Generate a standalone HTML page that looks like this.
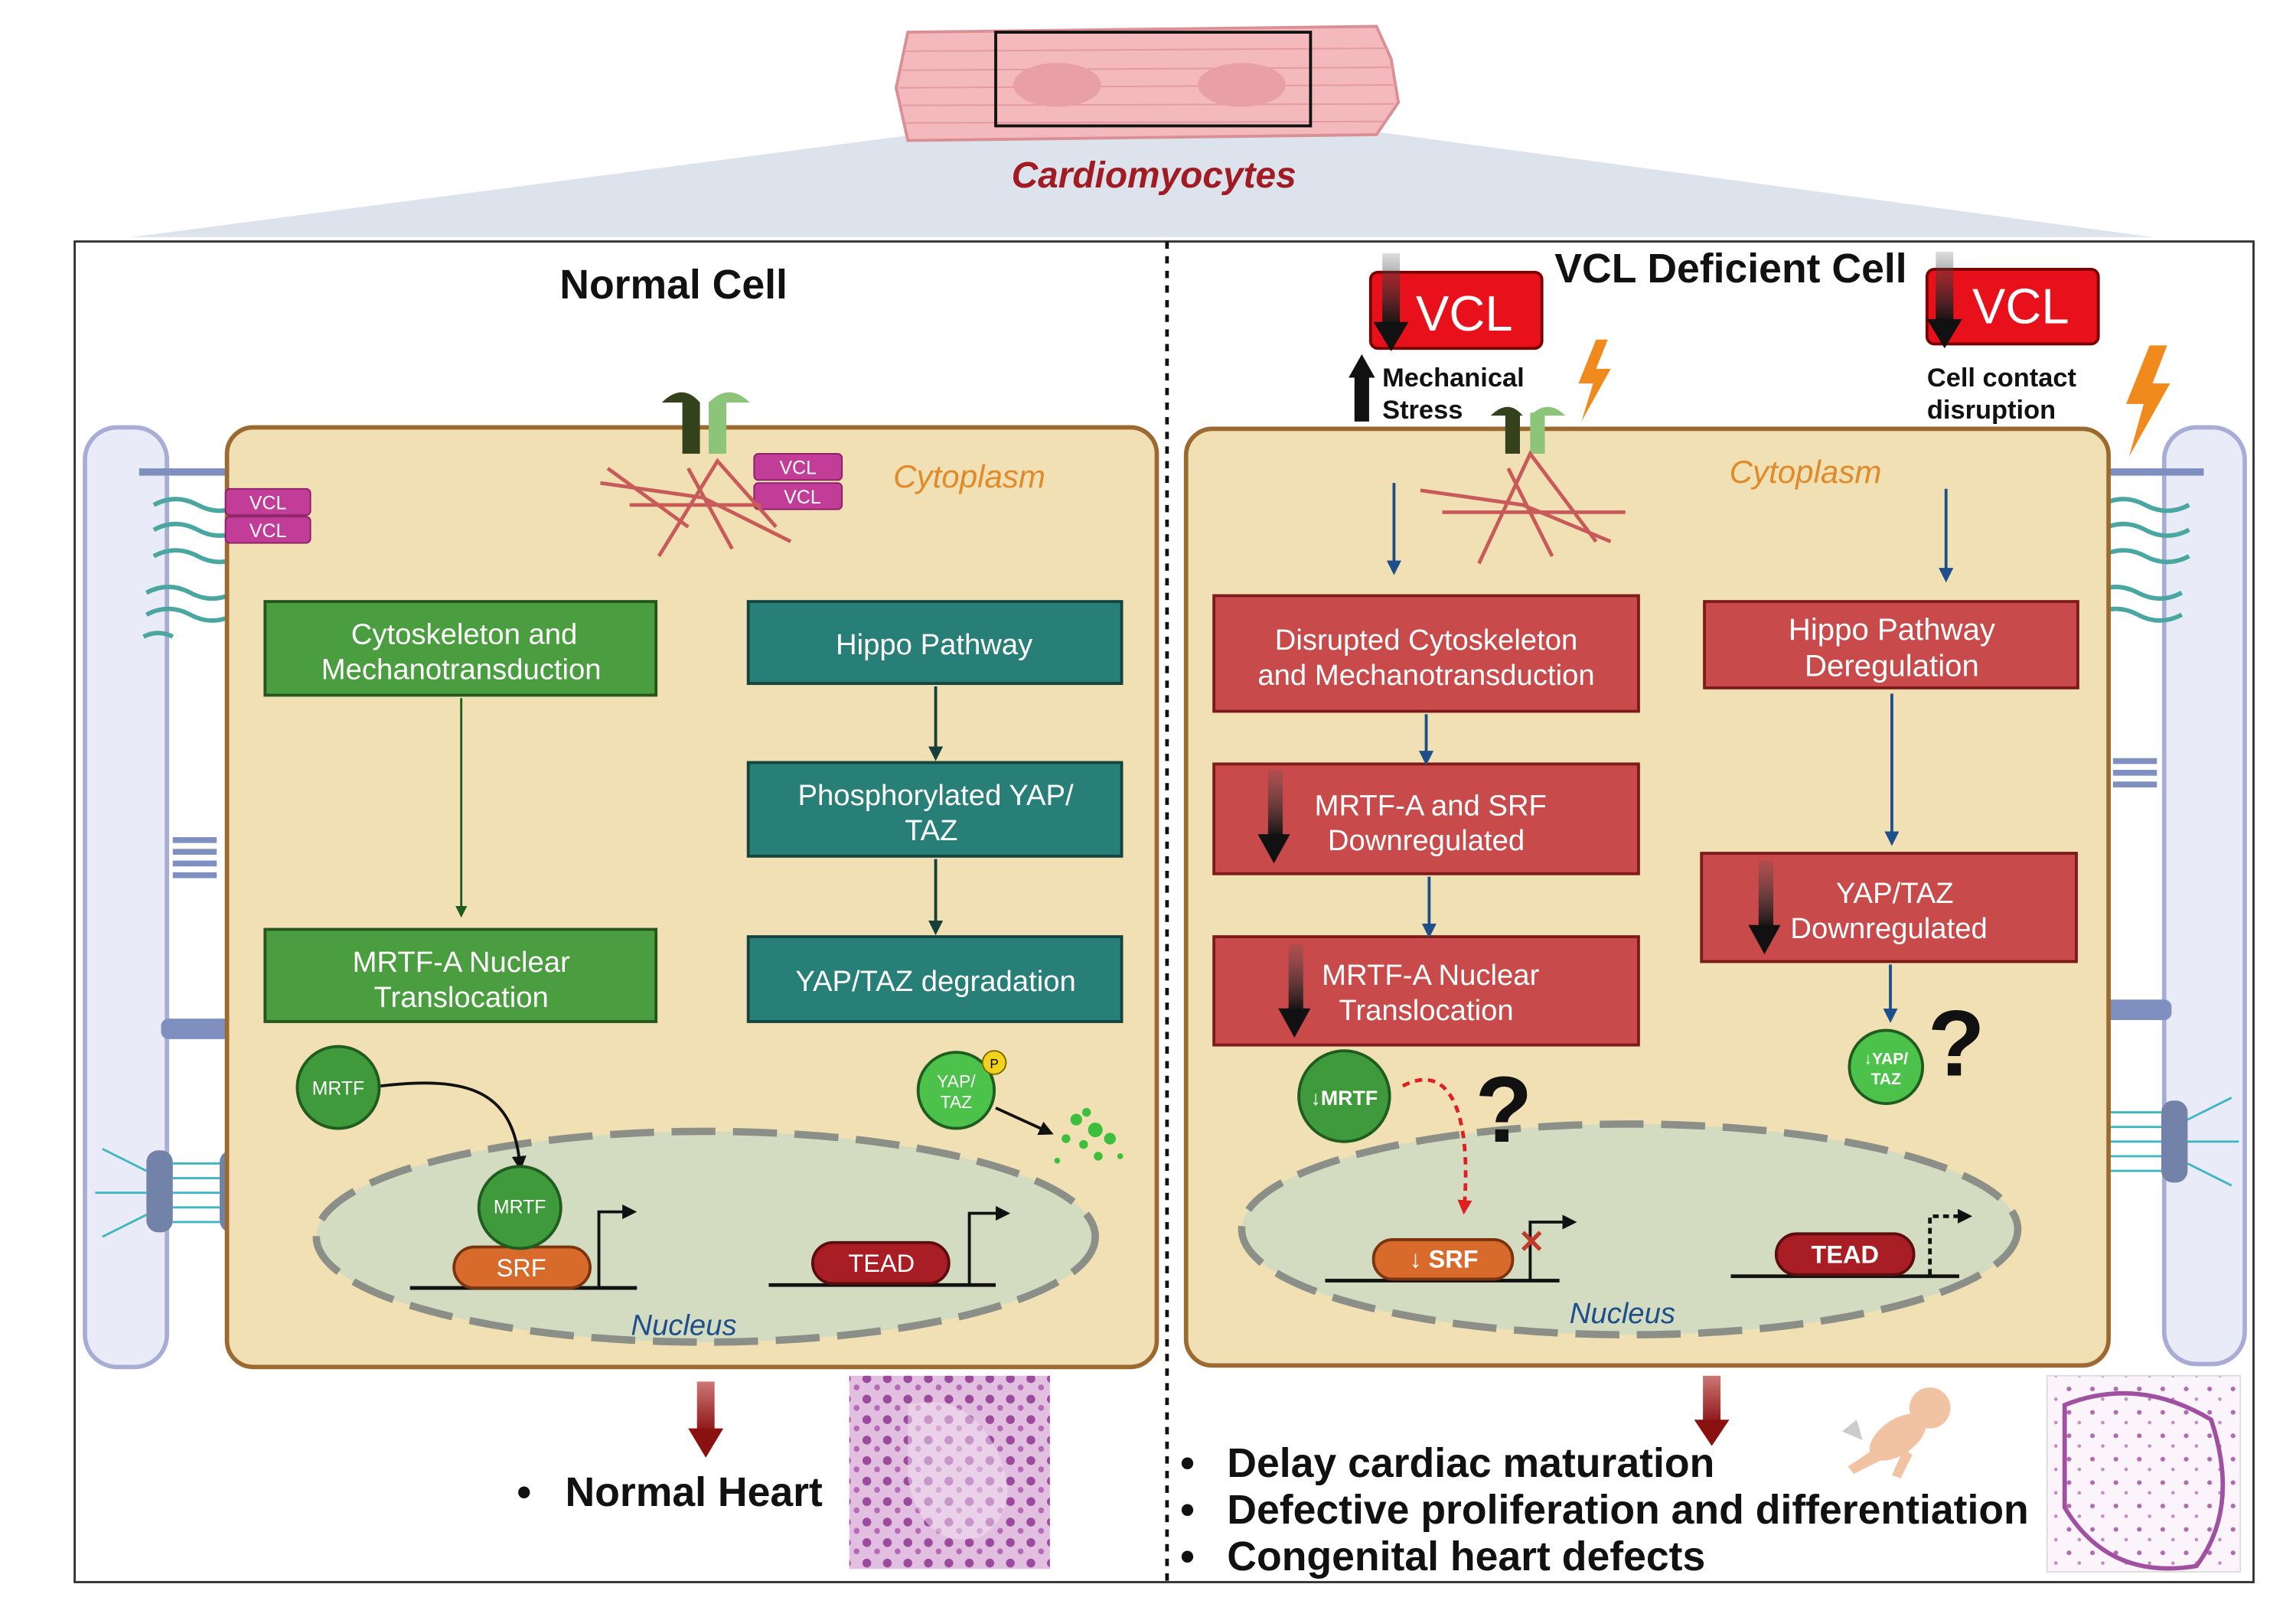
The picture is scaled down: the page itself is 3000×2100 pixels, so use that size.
<!DOCTYPE html>
<html><head><meta charset="utf-8"><style>
html,body{margin:0;padding:0;background:#fff}
svg{display:block}
text{font-family:"Liberation Sans",Arial,sans-serif}
</style></head><body>
<svg width="3000" height="2100" viewBox="0 0 1568 1098" preserveAspectRatio="none" xmlns="http://www.w3.org/2000/svg">
<defs>
<marker id="ag" markerWidth="8" markerHeight="8" refX="4" refY="4" orient="auto" markerUnits="userSpaceOnUse"><path d="M0,0 L8,4 L0,8z" fill="#1f5c1f"/></marker>
<marker id="at" markerWidth="10" markerHeight="10" refX="5" refY="5" orient="auto" markerUnits="userSpaceOnUse"><path d="M0,0 L10,5 L0,10z" fill="#153f3a"/></marker>
<marker id="ab" markerWidth="10" markerHeight="10" refX="5" refY="5" orient="auto" markerUnits="userSpaceOnUse"><path d="M0,0 L10,5 L0,10z" fill="#1d4f8a"/></marker>
<marker id="ak" markerWidth="10" markerHeight="10" refX="5" refY="5" orient="auto" markerUnits="userSpaceOnUse"><path d="M0,0 L10,5 L0,10z" fill="#111"/></marker>
<marker id="ar" markerWidth="10" markerHeight="10" refX="5" refY="5" orient="auto" markerUnits="userSpaceOnUse"><path d="M0,0 L10,5 L0,10z" fill="#e02020"/></marker>
<linearGradient id="dk" x1="0" y1="0" x2="0" y2="1"><stop offset="0" stop-color="#555" stop-opacity="0.2"/><stop offset="1" stop-color="#111"/></linearGradient>
<linearGradient id="dr" x1="0" y1="0" x2="0" y2="1"><stop offset="0" stop-color="#c77" /><stop offset="1" stop-color="#8b1010"/></linearGradient>
<pattern id="hist" width="14" height="14" patternUnits="userSpaceOnUse"><rect width="14" height="14" fill="#e2bfe0"/><circle cx="4" cy="4" r="3" fill="#9b4a9e"/><circle cx="11" cy="10" r="2" fill="#b56ab5"/></pattern>
<pattern id="hist2" width="16" height="16" patternUnits="userSpaceOnUse"><rect width="16" height="16" fill="#fbf5fb"/><circle cx="5" cy="5" r="1.6" fill="#b06ab0"/><circle cx="12" cy="12" r="1.2" fill="#c58ac5"/></pattern>
</defs>

<!-- top projection -->
<polygon points="640,90 940,90 1470,162 90,162" fill="#dde3ec"/>
<path d="M620,22 L940,18 L950,40 L955,70 L940,92 L620,96 L612,60z" fill="#f3b9bc" stroke="#d98f94" stroke-width="2"/>
<g stroke="#e39aa0" stroke-width="1">
<line x1="618" y1="35" x2="948" y2="33"/><line x1="616" y1="48" x2="952" y2="46"/><line x1="614" y1="60" x2="954" y2="58"/><line x1="616" y1="72" x2="952" y2="71"/><line x1="618" y1="84" x2="946" y2="83"/>
</g>
<ellipse cx="722" cy="58" rx="30" ry="15" fill="#e8a0a6"/>
<ellipse cx="848" cy="58" rx="30" ry="15" fill="#e8a0a6"/>
<rect x="680" y="22" width="215" height="64" fill="none" stroke="#111" stroke-width="2"/>
<text x="788" y="128" font-size="25" font-weight="bold" font-style="italic" fill="#a01c22" text-anchor="middle">Cardiomyocytes</text>

<!-- frame -->
<rect x="51" y="165" width="1488" height="916" fill="none" stroke="#333" stroke-width="1.5"/>
<line x1="797" y1="165" x2="797" y2="1080" stroke="#111" stroke-width="2.5" stroke-dasharray="5,5"/>
<text x="460" y="204" font-size="28" font-weight="bold" text-anchor="middle" fill="#111">Normal Cell</text>
<text x="1182" y="193" font-size="28" font-weight="bold" text-anchor="middle" fill="#111">VCL Deficient Cell</text>

<!-- membranes -->
<rect x="58" y="292" width="56" height="642" rx="22" fill="#e9ecf8" stroke="#a8add6" stroke-width="3"/>
<rect x="1478" y="292" width="55" height="640" rx="22" fill="#e9ecf8" stroke="#a8add6" stroke-width="3"/>
<g stroke="#4aa6a0" stroke-width="3" fill="none">
<path d="M105,345 q15,-8 30,0 q15,8 30,0"/><path d="M105,362 q15,-8 30,0 q15,8 30,0"/><path d="M105,380 q15,-8 30,0 q15,8 30,0"/>
<path d="M100,405 q15,-8 30,0 q15,8 30,0"/><path d="M100,420 q15,-8 30,0 q15,8 30,0"/><path d="M98,435 q10,-5 20,0"/>
<path d="M1435,345 q15,-8 30,0 q15,8 30,0"/><path d="M1435,362 q15,-8 30,0 q15,8 30,0"/><path d="M1435,380 q15,-8 30,0 q15,8 30,0"/>
<path d="M1430,405 q15,-8 30,0 q15,8 30,0"/><path d="M1430,420 q15,-8 30,0 q15,8 30,0"/>
</g>
<g fill="#7f8fc0"><rect x="95" y="320" width="80" height="5"/><rect x="1425" y="320" width="80" height="5"/>
<rect x="118" y="572" width="30" height="4"/><rect x="118" y="580" width="30" height="4"/><rect x="118" y="588" width="30" height="4"/><rect x="118" y="596" width="30" height="4"/>
<rect x="1443" y="518" width="30" height="4"/><rect x="1443" y="526" width="30" height="4"/><rect x="1443" y="534" width="30" height="4"/>
<rect x="110" y="696" width="48" height="14" rx="5"/><rect x="1435" y="683" width="48" height="14" rx="5"/></g>
<g fill="#7282a8"><rect x="100" y="786" width="18" height="56" rx="8"/><rect x="150" y="786" width="18" height="56" rx="8"/>
<rect x="1422" y="752" width="18" height="56" rx="8"/><rect x="1476" y="752" width="18" height="56" rx="8"/></g>
<g stroke="#3fb6c0" stroke-width="1.5"><line x1="118" y1="795" x2="150" y2="795"/><line x1="118" y1="805" x2="150" y2="805"/><line x1="118" y1="815" x2="150" y2="815"/><line x1="118" y1="825" x2="150" y2="825"/><line x1="118" y1="835" x2="150" y2="835"/>
<line x1="1440" y1="760" x2="1476" y2="760"/><line x1="1440" y1="770" x2="1476" y2="770"/><line x1="1440" y1="780" x2="1476" y2="780"/><line x1="1440" y1="790" x2="1476" y2="790"/><line x1="1440" y1="800" x2="1476" y2="800"/>
<path d="M100,800 l-30,-15 M100,815 l-35,0 M100,830 l-30,15 M168,800 l30,-15 M168,815 l35,0 M168,830 l30,15" fill="none"/>
<path d="M1422,765 l-30,-15 M1422,780 l-35,0 M1422,795 l-30,15 M1494,765 l30,-15 M1494,780 l35,0 M1494,795 l30,15" fill="none"/></g>

<!-- cells -->
<rect x="155" y="292" width="635" height="642" rx="18" fill="#f1e0b3" stroke="#9c6a30" stroke-width="3"/>
<rect x="810" y="293" width="630" height="640" rx="18" fill="#f1e0b3" stroke="#9c6a30" stroke-width="3"/>
<text x="662" y="333" font-size="22" font-style="italic" fill="#e08a2a" text-anchor="middle">Cytoplasm</text>
<text x="1233" y="330" font-size="22" font-style="italic" fill="#e08a2a" text-anchor="middle">Cytoplasm</text>

<!-- VCL labels left -->
<g font-size="13" fill="#fff" text-anchor="middle">
<rect x="154" y="334" width="58" height="18" rx="3" fill="#c23d97" stroke="#8a1f6a"/><text x="183" y="348">VCL</text>
<rect x="154" y="353" width="58" height="18" rx="3" fill="#c23d97" stroke="#8a1f6a"/><text x="183" y="367">VCL</text>
<rect x="515" y="310" width="60" height="18" rx="3" fill="#c23d97" stroke="#8a1f6a"/><text x="545" y="324">VCL</text>
<rect x="515" y="330" width="60" height="18" rx="3" fill="#c23d97" stroke="#8a1f6a"/><text x="548" y="344">VCL</text>
</g>
<!-- integrins & actin -->
<g><rect x="466" y="275" width="12" height="35" fill="#34421c"/><rect x="484" y="275" width="12" height="35" fill="#8cc47a"/>
<path d="M452,275 q14,-14 26,0z" fill="#34421c"/><path d="M484,275 q14,-14 28,0z" fill="#8cc47a"/>
<rect x="1028" y="282" width="10" height="28" fill="#34421c"/><rect x="1045" y="282" width="10" height="28" fill="#8cc47a"/>
<path d="M1018,284 q12,-12 22,0z" fill="#34421c"/><path d="M1045,284 q12,-12 24,0z" fill="#8cc47a"/></g>
<g stroke="#c85a5a" stroke-width="2.5" fill="none">
<path d="M410,330 L480,340 L540,370"/><path d="M450,380 L490,315 L530,360"/><path d="M430,345 L520,345"/><path d="M470,320 L500,375"/><path d="M415,320 L470,360"/>
<path d="M970,335 L1040,345 L1100,370"/><path d="M1010,385 L1045,310 L1090,370"/><path d="M985,350 L1110,350"/><path d="M1030,320 L1060,380"/>
</g>

<!-- boxes -->
<g font-size="20" fill="#fff" text-anchor="middle">
<rect x="181" y="411" width="267" height="64" fill="#4a9e3f" stroke="#24561d" stroke-width="2"/>
<text x="317" y="440">Cytoskeleton and</text><text x="315" y="464">Mechanotransduction</text>
<rect x="181" y="635" width="267" height="63" fill="#4a9e3f" stroke="#24561d" stroke-width="2"/>
<text x="315" y="664">MRTF-A Nuclear</text><text x="315" y="688">Translocation</text>
<rect x="511" y="411" width="255" height="56" fill="#287f77" stroke="#14443f" stroke-width="2"/>
<text x="638" y="447">Hippo Pathway</text>
<rect x="511" y="521" width="255" height="64" fill="#287f77" stroke="#14443f" stroke-width="2"/>
<text x="639" y="550">Phosphorylated YAP/</text><text x="636" y="574">TAZ</text>
<rect x="511" y="640" width="255" height="58" fill="#287f77" stroke="#14443f" stroke-width="2"/>
<text x="639" y="677">YAP/TAZ degradation</text>
<rect x="829" y="407" width="290" height="79" fill="#c94a4a" stroke="#7d1a1a" stroke-width="2"/>
<text x="974" y="444">Disrupted  Cytoskeleton</text><text x="974" y="468">and Mechanotransduction</text>
<rect x="829" y="522" width="290" height="75" fill="#c94a4a" stroke="#7d1a1a" stroke-width="2"/>
<text x="977" y="557">MRTF-A and SRF</text><text x="974" y="581">Downregulated</text>
<rect x="829" y="640" width="290" height="74" fill="#c94a4a" stroke="#7d1a1a" stroke-width="2"/>
<text x="977" y="673">MRTF-A Nuclear</text><text x="974" y="697">Translocation</text>
<rect x="1164" y="411" width="255" height="59" fill="#c94a4a" stroke="#7d1a1a" stroke-width="2"/>
<text x="1292" y="437" font-size="21">Hippo Pathway</text><text x="1292" y="462" font-size="21">Deregulation</text>
<rect x="1162" y="583" width="256" height="74" fill="#c94a4a" stroke="#7d1a1a" stroke-width="2"/>
<text x="1294" y="617">YAP/TAZ</text><text x="1290" y="641">Downregulated</text>
</g>
<g fill="url(#dk)"><rect x="866" y="526" width="10" height="46"/><rect x="880" y="645" width="10" height="46"/><rect x="1201" y="588" width="10" height="46"/></g>
<g fill="#111"><path d="M859,570 l22,0 l-11,20z"/><path d="M873,689 l22,0 l-11,20z"/><path d="M1194,632 l22,0 l-11,20z"/></g>

<!-- connectors -->
<line x1="315" y1="477" x2="315" y2="623" stroke="#1f5c1f" stroke-width="1.5" marker-end="url(#ag)"/>
<line x1="639" y1="469" x2="639" y2="515" stroke="#153f3a" stroke-width="2" marker-end="url(#at)"/>
<line x1="639" y1="587" x2="639" y2="634" stroke="#153f3a" stroke-width="2" marker-end="url(#at)"/>
<g stroke="#1d4f8a" stroke-width="2">
<line x1="952" y1="330" x2="952" y2="388" marker-end="url(#ab)"/>
<line x1="1329" y1="334" x2="1329" y2="393" marker-end="url(#ab)"/>
<line x1="974" y1="488" x2="974" y2="518" marker-end="url(#ab)"/>
<line x1="976" y1="599" x2="976" y2="636" marker-end="url(#ab)"/>
<line x1="1292" y1="474" x2="1292" y2="573" marker-end="url(#ab)"/>
<line x1="1291" y1="659" x2="1291" y2="694" marker-end="url(#ab)"/>
</g>

<!-- nuclei -->
<ellipse cx="482" cy="845" rx="266" ry="72" fill="#d3dbc1" stroke="#8b8f88" stroke-width="5" stroke-dasharray="30,12"/>
<ellipse cx="1113" cy="840" rx="265" ry="72" fill="#d3dbc1" stroke="#8b8f88" stroke-width="5" stroke-dasharray="30,12"/>
<text x="467" y="912" font-size="20" font-style="italic" fill="#1d4f8a" text-anchor="middle">Nucleus</text>
<text x="1108" y="904" font-size="20" font-style="italic" fill="#1d4f8a" text-anchor="middle">Nucleus</text>

<circle cx="231" cy="743" r="28" fill="#3e9a3a" stroke="#1f5c1f" stroke-width="2"/>
<text x="231" y="748" font-size="13" fill="#fff" text-anchor="middle">MRTF</text>
<path d="M260,742 C320,735 350,745 355,795" stroke="#111" stroke-width="2" fill="none" marker-end="url(#ak)"/>
<line x1="280" y1="880" x2="435" y2="880" stroke="#111" stroke-width="2.5"/>
<rect x="310" y="852" width="93" height="28" rx="14" fill="#d86a2c" stroke="#7a3510" stroke-width="2"/>
<text x="356" y="872" font-size="17" fill="#fff" text-anchor="middle">SRF</text>
<circle cx="355" cy="825" r="28" fill="#3e9a3a" stroke="#1f5c1f" stroke-width="2"/>
<text x="355" y="829" font-size="13" fill="#fff" text-anchor="middle">MRTF</text>
<path d="M409,879 L409,828 L430,828" stroke="#111" stroke-width="2" fill="none" marker-end="url(#ak)"/>
<line x1="525" y1="878" x2="680" y2="878" stroke="#111" stroke-width="2.5"/>
<rect x="555" y="849" width="93" height="28" rx="14" fill="#a81e24" stroke="#5a0e10" stroke-width="2"/>
<text x="602" y="869" font-size="17" fill="#fff" text-anchor="middle">TEAD</text>
<path d="M662,877 L662,829 L685,829" stroke="#111" stroke-width="2" fill="none" marker-end="url(#ak)"/>
<circle cx="653" cy="745" r="26" fill="#4cc24a" stroke="#1f5c1f" stroke-width="2"/>
<text x="653" y="743" font-size="12" fill="#fff" text-anchor="middle">YAP/</text><text x="653" y="757" font-size="12" fill="#fff" text-anchor="middle">TAZ</text>
<circle cx="679" cy="726" r="8" fill="#f2d21a" stroke="#7a6a00"/><text x="679" y="730" font-size="9" text-anchor="middle">P</text>
<line x1="680" y1="757" x2="715" y2="773" stroke="#111" stroke-width="2" marker-end="url(#ak)"/>
<g fill="#3dbf3d"><circle cx="735" cy="765" r="4"/><circle cx="748" cy="772" r="5"/><circle cx="740" cy="782" r="3"/><circle cx="758" cy="778" r="4"/><circle cx="728" cy="778" r="3"/><circle cx="750" cy="790" r="3"/><circle cx="765" cy="790" r="2"/><circle cx="722" cy="793" r="2"/><circle cx="742" cy="760" r="3"/></g>

<circle cx="918" cy="749" r="31" fill="#3e9a3a" stroke="#1f5c1f" stroke-width="2"/>
<text x="918" y="755" font-size="14" font-weight="bold" fill="#fff" text-anchor="middle">↓MRTF</text>
<path d="M958,742 C990,725 1005,760 1000,825" stroke="#e02020" stroke-width="2.5" stroke-dasharray="5,4" fill="none" marker-end="url(#ar)"/>
<text x="1027" y="780" font-size="64" font-weight="bold" text-anchor="middle" fill="#111">?</text>
<line x1="905" y1="875" x2="1065" y2="875" stroke="#111" stroke-width="2.5"/>
<rect x="938" y="847" width="95" height="27" rx="13" fill="#d86a2c" stroke="#7a3510" stroke-width="2"/>
<text x="986" y="866" font-size="17" font-weight="bold" fill="#fff" text-anchor="middle">↓ SRF</text>
<path d="M1045,874 L1045,835 L1072,835" stroke="#111" stroke-width="2" fill="none" marker-end="url(#ak)"/>
<text x="1046" y="856" font-size="22" font-weight="bold" fill="#c0392b" text-anchor="middle">✕</text>
<line x1="1182" y1="872" x2="1338" y2="872" stroke="#111" stroke-width="2.5"/>
<rect x="1213" y="843" width="94" height="28" rx="14" fill="#a81e24" stroke="#5a0e10" stroke-width="2"/>
<text x="1260" y="863" font-size="17" font-weight="bold" fill="#fff" text-anchor="middle">TEAD</text>
<path d="M1318,871 L1318,831 L1342,831" stroke="#111" stroke-width="2.5" stroke-dasharray="4,3" fill="none" marker-end="url(#ak)"/>
<circle cx="1288" cy="729" r="25" fill="#4cc24a" stroke="#1f5c1f" stroke-width="2"/>
<text x="1288" y="727" font-size="11" font-weight="bold" fill="#fff" text-anchor="middle">↓YAP/</text><text x="1288" y="741" font-size="11" font-weight="bold" fill="#fff" text-anchor="middle">TAZ</text>
<text x="1336" y="735" font-size="64" font-weight="bold" text-anchor="middle" fill="#111">?</text>

<!-- VCL deficient header -->
<rect x="936" y="186" width="117" height="52" rx="5" fill="#e8101a" stroke="#7a0000" stroke-width="2"/>
<text x="1000" y="226" font-size="34" fill="#fff" text-anchor="middle">VCL</text>
<rect x="1316" y="184" width="117" height="51" rx="5" fill="#e8101a" stroke="#7a0000" stroke-width="2"/>
<text x="1380" y="221" font-size="34" fill="#fff" text-anchor="middle">VCL</text>
<g fill="url(#dk)"><rect x="944" y="173" width="12" height="50"/><rect x="1322" y="172" width="12" height="48"/></g>
<g fill="#111"><path d="M938,220 l24,0 l-12,20z"/><path d="M1316,218 l24,0 l-12,20z"/>
<path d="M921,258 l9,-16 l9,16z"/></g>
<rect x="925" y="256" width="10" height="32" fill="#111"/>
<text x="944" y="264" font-size="18" font-weight="bold" fill="#111">Mechanical</text>
<text x="944" y="286" font-size="18" font-weight="bold" fill="#111">Stress</text>
<text x="1316" y="264" font-size="18" font-weight="bold" fill="#111">Cell contact</text>
<text x="1316" y="286" font-size="18" font-weight="bold" fill="#111">disruption</text>
<path d="M1090,232 L1078,262 L1088,262 L1080,288 L1100,252 L1090,252 L1098,232z" fill="#f08a1c"/>
<path d="M1468,236 L1452,276 L1464,276 L1454,312 L1482,262 L1470,262 L1480,236z" fill="#f08a1c"/>

<!-- bottom -->
<rect x="476" y="944" width="12" height="36" fill="url(#dr)"/><path d="M470,976 l24,0 l-12,20z" fill="#8b1010"/>
<rect x="1163" y="940" width="12" height="34" fill="url(#dr)"/><path d="M1157,970 l24,0 l-12,18z" fill="#8b1010"/>
<g font-size="28" font-weight="bold" fill="#111">
<text x="353" y="1029">•</text><text x="386" y="1029">Normal Heart</text>
<text x="806" y="1009">•</text><text x="838" y="1009">Delay cardiac maturation</text>
<text x="806" y="1041">•</text><text x="838" y="1041">Defective proliferation and differentiation</text>
<text x="806" y="1073">•</text><text x="838" y="1073">Congenital heart defects</text>
</g>
<rect x="580" y="940" width="137" height="132" fill="url(#hist)"/>
<path d="M620,960 q40,-10 60,30 q20,40 -10,60 q-40,10 -50,-40z" fill="#f3e2f2" opacity="0.5"/>
<rect x="1398" y="940" width="132" height="134" fill="url(#hist2)" stroke="#ddd"/>
<path d="M1410,960 q50,-20 100,10 q20,60 -10,100 q-60,10 -90,-40z" fill="none" stroke="#a050a0" stroke-width="3"/>
<!-- baby -->
<g fill="#f2c3a2">
<circle cx="1318" cy="962" r="14"/>
<ellipse cx="1296" cy="982" rx="22" ry="12" transform="rotate(-35 1296 982)"/>
<path d="M1280,990 l-18,12 l4,5 l20,-10z"/>
<path d="M1300,990 l-8,18 l6,2 l8,-16z"/>
</g>
<path d="M1258,978 l10,-8 l4,14z" fill="#ccc"/>
</svg>
</body></html>
